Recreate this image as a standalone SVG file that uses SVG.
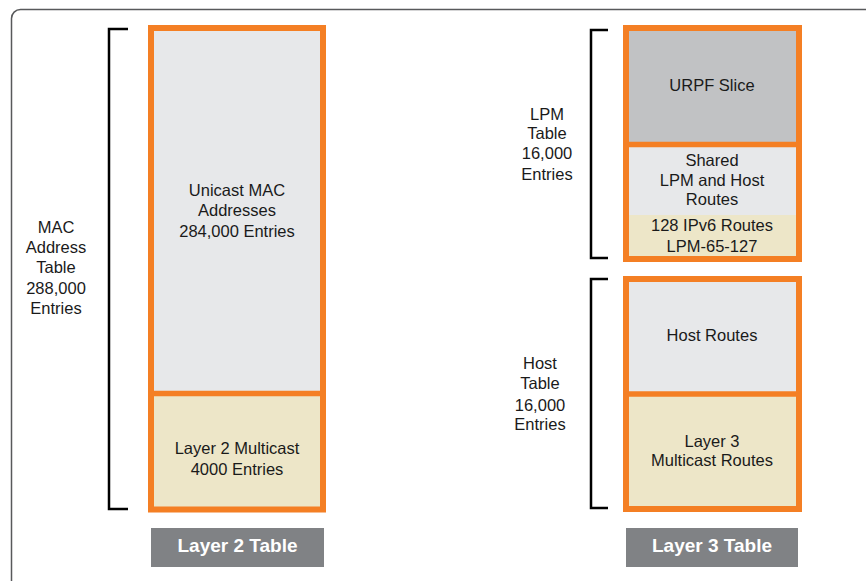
<svg xmlns="http://www.w3.org/2000/svg" width="866" height="581" viewBox="0 0 866 581">
<style>
.frame{fill:#fff;stroke:#58595b;stroke-width:1.5}
.br{fill:none;stroke:#000;stroke-width:2.5}
.ob{fill:none;stroke:#f47f24;stroke-width:6}
.div{stroke:#f47f24;stroke-width:5.5}
.lg{fill:#e7e8ea}
.bg{fill:#ede6c8}
.dg{fill:#c1c2c4}
.tab{fill:#808285}
text{font-family:"Liberation Sans",Arial,sans-serif;font-size:16.5px;fill:#1a1a1a;text-anchor:middle}
.tt{font-size:19px;font-weight:bold;fill:#fff}
</style>
<rect class="frame" x="11.5" y="9.5" width="880" height="600" rx="9"/>
<g id="connectors">
<path class="br" d="M128,29 H109 V509 H128"/>
<path class="br" d="M608,30 H591 V258 H608"/>
<path class="br" d="M608,279 H591 V508 H608"/>
</g>
<g id="mac-label">
<text x="56" y="233">MAC</text>
<text x="56" y="253">Address</text>
<text x="56" y="273">Table</text>
<text x="56" y="294">288,000</text>
<text x="56" y="314">Entries</text>
</g>
<g id="unicast">
<rect class="lg" x="151" y="28" width="172" height="366"/>
<text x="237" y="196">Unicast MAC</text>
<text x="237" y="216">Addresses</text>
<text x="237" y="237">284,000 Entries</text>
</g>
<g id="l2multicast">
<rect class="bg" x="151" y="394" width="172" height="115"/>
<text x="237" y="454">Layer 2 Multicast</text>
<text x="237" y="475">4000 Entries</text>
</g>
<g id="l2box">
<rect class="ob" x="151" y="28" width="172" height="481.5"/>
<line class="div" x1="151" y1="393.5" x2="323" y2="393.5"/>
</g>
<g id="l2table">
<rect class="tab" x="151" y="528" width="173" height="39"/>
<text class="tt" x="237.5" y="551.5">Layer 2 Table</text>
</g>
<g id="lpm-label">
<text x="547" y="120">LPM</text>
<text x="547" y="139">Table</text>
<text x="547" y="159">16,000</text>
<text x="547" y="180">Entries</text>
</g>
<g id="urpf">
<rect class="dg" x="626" y="28" width="173" height="117"/>
<text x="712" y="91">URPF Slice</text>
</g>
<g id="shared">
<rect class="lg" x="626" y="145" width="173" height="70"/>
<text x="712" y="166">Shared</text>
<text x="712" y="186">LPM and Host</text>
<text x="712" y="205">Routes</text>
</g>
<g id="ipv6">
<rect class="bg" x="626" y="215" width="173" height="44"/>
<text x="712" y="231">128 IPv6 Routes</text>
<text x="712" y="252">LPM-65-127</text>
</g>
<g id="lpmbox">
<rect class="ob" x="626" y="28" width="173" height="231"/>
<line class="div" x1="626" y1="144.5" x2="799" y2="144.5"/>
</g>
<g id="host-label">
<text x="540" y="369">Host</text>
<text x="540" y="389">Table</text>
<text x="540" y="411">16,000</text>
<text x="540" y="430">Entries</text>
</g>
<g id="hostroutes">
<rect class="lg" x="626" y="279" width="173" height="115"/>
<text x="712" y="341">Host Routes</text>
</g>
<g id="l3multicast">
<rect class="bg" x="626" y="394" width="173" height="115"/>
<text x="712" y="447">Layer 3</text>
<text x="712" y="466">Multicast Routes</text>
</g>
<g id="hostbox">
<rect class="ob" x="626" y="279" width="173" height="230"/>
<line class="div" x1="626" y1="394" x2="799" y2="394"/>
</g>
<g id="l3table">
<rect class="tab" x="626" y="528" width="172" height="39"/>
<text class="tt" x="712" y="551.5">Layer 3 Table</text>
</g>
</svg>
